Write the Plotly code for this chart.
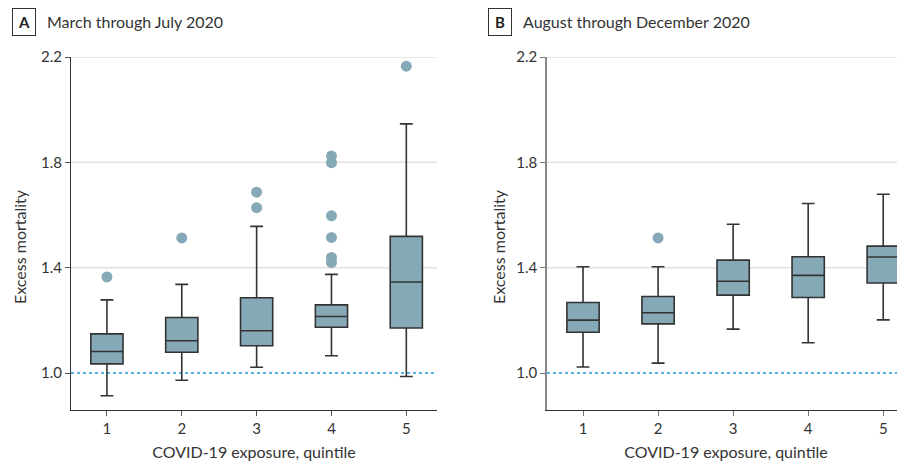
import plotly.graph_objects as go

quintiles = [1, 2, 3, 4, 5]

# Panel A: March through July 2020
a_lower = [0.914, 0.973, 1.022, 1.066, 0.987]
a_q1 = [1.035, 1.079, 1.104, 1.174, 1.171]
a_median = [1.082, 1.123, 1.161, 1.215, 1.346]
a_q3 = [1.149, 1.211, 1.286, 1.259, 1.519]
a_upper = [1.278, 1.337, 1.557, 1.375, 1.946]
a_out_x = [1, 2, 3, 3, 4, 4, 4, 4, 4, 4, 5]
a_out_y = [1.365, 1.513, 1.687, 1.628, 1.824, 1.799, 1.597, 1.515, 1.439, 1.420, 2.165]

# Panel B: August through December 2020
b_lower = [1.023, 1.038, 1.167, 1.115, 1.202]
b_q1 = [1.155, 1.187, 1.296, 1.287, 1.342]
b_median = [1.201, 1.229, 1.349, 1.371, 1.441]
b_q3 = [1.268, 1.291, 1.429, 1.442, 1.482]
b_upper = [1.404, 1.404, 1.565, 1.644, 1.679]
b_out_x = [2]
b_out_y = [1.513]

y_ticks = [1.0, 1.4, 1.8, 2.2]
grid_vals = [1.4, 1.8, 2.2]

FILL = "#86a9b7"
LINE = "#333333"
FONT = "Lato, sans-serif"

# page body has an 8px default margin; work in page pixel coords and subtract it
OFF = 8
W, H = 905 - OFF, 463 - OFF
MT, MB = 57 - OFF, 463 - 410
PH = H - MT - MB

def px(x):
    return (x - OFF) / W

def py(y):
    return 1 - (y - OFF - MT) / PH

fig = go.Figure()

def add_panel(lower, q1, med, q3, upper, ox, oy, xa, ya):
    fig.add_trace(go.Box(
        x=quintiles, q1=q1, median=med, q3=q3, lowerfence=lower, upperfence=upper,
        width=0.43, whiskerwidth=0.4, fillcolor=FILL,
        line=dict(color=LINE, width=1.6), boxpoints=False,
        xaxis=xa, yaxis=ya, showlegend=False, hoverinfo="skip"))
    fig.add_trace(go.Scatter(
        x=ox, y=oy, mode="markers",
        marker=dict(color=FILL, size=11, line=dict(width=0)),
        xaxis=xa, yaxis=ya, showlegend=False, hoverinfo="skip"))

add_panel(a_lower, a_q1, a_median, a_q3, a_upper, a_out_x, a_out_y, "x", "y")
add_panel(b_lower, b_q1, b_median, b_q3, b_upper, b_out_x, b_out_y, "x2", "y2")

shapes = []
for xr, yr in [("x domain", "y"), ("x2 domain", "y2")]:
    for g in grid_vals:
        shapes.append(dict(type="line", xref=xr, yref=yr, x0=0, x1=1, y0=g, y1=g,
                           line=dict(color="#e2e2e2", width=1.5), layer="below"))
    shapes.append(dict(type="line", xref=xr, yref=yr, x0=0, x1=1, y0=1.0, y1=1.0,
                       line=dict(color="#1d9be0", width=1.5, dash="dot"), layer="below"))

axis_common = dict(showgrid=False, zeroline=False, ticks="outside", ticklen=5,
                   tickfont=dict(family=FONT, size=15, color="#333"))
xtitle = dict(text="COVID-19 exposure, quintile", font=dict(family=FONT, size=16, color="#333"), standoff=10)

fig.update_layout(
    width=W, height=H, margin=dict(l=0, r=0, t=MT, b=MB),
    paper_bgcolor="white", plot_bgcolor="white",
    font=dict(family=FONT, color="#333"),
    shapes=shapes,
    xaxis=dict(domain=[px(71), px(437)], range=[0.52, 5.41], tickvals=quintiles,
               showline=True, linecolor="#333", linewidth=1, tickcolor="#555",
               title=xtitle, anchor="y", **axis_common),
    yaxis=dict(range=[0.86, 2.2], tickvals=y_ticks, tickformat=".1f",
               showline=True, linecolor="#333", linewidth=1, tickcolor="#555",
               anchor="x", **axis_common),
    xaxis2=dict(domain=[px(547), 1], range=[0.52, 5.29], tickvals=quintiles,
                showline=True, linecolor="#333", linewidth=1, tickcolor="#777",
                title=xtitle, anchor="y2", **axis_common),
    yaxis2=dict(range=[0.86, 2.2], tickvals=y_ticks, tickformat=".1f",
                showline=True, linecolor="#888", linewidth=1.5, tickcolor="#777",
                anchor="x2", **axis_common),
    annotations=[
        dict(text="<b>A</b>", xref="paper", yref="paper", x=px(23.5), y=py(22),
             showarrow=False, font=dict(family=FONT, size=15, color="#222"),
             bordercolor="#333", borderwidth=1, borderpad=4, width=14,
             xanchor="center", yanchor="middle"),
        dict(text="March through July 2020", xref="paper", yref="paper", x=px(45), y=py(22),
             showarrow=False, font=dict(family=FONT, size=16, color="#333"), xanchor="left", yanchor="middle"),
        dict(text="<b>B</b>", xref="paper", yref="paper", x=px(500), y=py(22),
             showarrow=False, font=dict(family=FONT, size=15, color="#222"),
             bordercolor="#333", borderwidth=1, borderpad=4, width=14,
             xanchor="center", yanchor="middle"),
        dict(text="August through December 2020", xref="paper", yref="paper", x=px(521), y=py(22),
             showarrow=False, font=dict(family=FONT, size=16, color="#333"), xanchor="left", yanchor="middle"),
        dict(text="Excess mortality", xref="paper", yref="paper", x=px(20), y=py(247),
             showarrow=False, textangle=-90, font=dict(family=FONT, size=16, color="#333"),
             xanchor="center", yanchor="middle"),
        dict(text="Excess mortality", xref="paper", yref="paper", x=px(499), y=py(247),
             showarrow=False, textangle=-90, font=dict(family=FONT, size=16, color="#333"),
             xanchor="center", yanchor="middle"),
    ],
)

fig.write_html("out.html")
